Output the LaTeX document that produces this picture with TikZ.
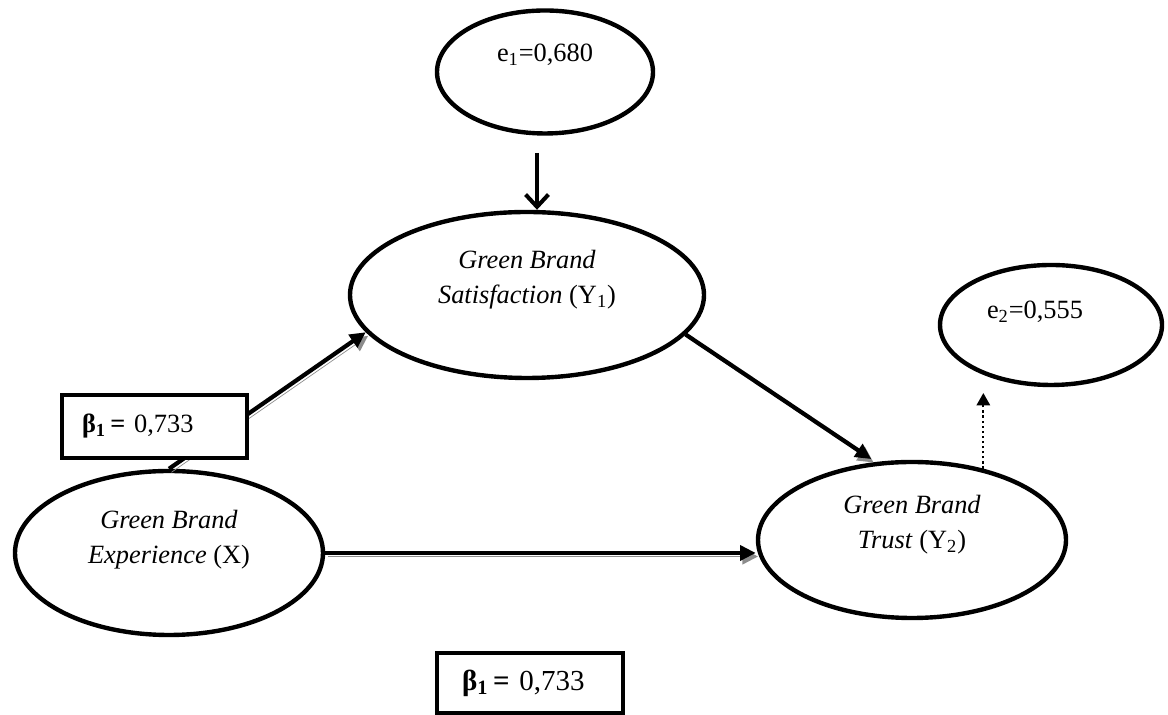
\documentclass[tikz,border=0pt]{standalone}
\usepackage{fontspec}
\setmainfont{Liberation Serif}
\usetikzlibrary{shapes.geometric, arrows.meta}

\begin{document}
\begin{tikzpicture}[
    font=\fontsize{15}{20}\selectfont,
    latent/.style={draw, ellipse, line width=2.5pt, inner sep=0pt},
    coef/.style={draw, rectangle, line width=2.7pt, fill=white, align=left, inner ysep=0pt},
    causal/.style={line width=2.4pt, -{Triangle[length=9pt, width=8.5pt]},
      preaction={draw=black!45, transform canvas={shift={(1.4pt,-2pt)}}}},
    ]

        \useasboundingbox (0, 0) rectangle (23.36, 14.3);

        % error terms
        \node[latent, minimum width=4.32cm, minimum height=2.46cm,
          label={[yshift=0.34cm]center:e\textsubscript{1}=0,680}] (e1) at (10.9, 12.86) {};
        \node[latent, minimum width=4.44cm, minimum height=2.4cm,
          label={[xshift=-0.32cm, yshift=0.26cm]center:e\textsubscript{2}=0,555}] (e2) at (21.02, 7.8) {};

        % constructs
        \node[latent, minimum width=7.08cm, minimum height=3.32cm,
          label={[yshift=0.3cm, align=center]center:\textit{Green Brand}\\\textit{Satisfaction} (Y\textsubscript{1})}] (sat) at (10.54, 8.4) {};
        \node[latent, minimum width=6.16cm, minimum height=3.28cm,
          label={[yshift=0.26cm, align=center]center:\textit{Green Brand}\\\textit{Experience} (X)}] (exp) at (3.38, 3.24) {};
        \node[latent, minimum width=6.16cm, minimum height=3.12cm,
          label={[yshift=0.3cm, align=center]center:\textit{Green Brand}\\\textit{Trust} (Y\textsubscript{2})}] (trust) at (18.24, 3.5) {};

        % arrows
        \coordinate (e1out) at (10.74, 11.24);
        \coordinate (e2tip) at (19.64, 6.44);
        \draw[line width=2.3pt, -{Straight Barb[length=7pt, width=13pt]}] (e1out) -- (e1out |- sat.north);
        \draw[causal] (exp.north) -- (sat.193);
        \draw[causal, shorten >=3pt] (sat.-14) -- (trust.115);
        \draw[causal] (exp.east) -- (exp.east -| trust.west);
        \draw[line width=1.3pt, dash pattern=on 1.3pt off 1.6pt,
          -{Triangle[length=7pt, width=7.5pt]}] (trust.45) -- (trust.45 |- e2tip);

        % coefficients
        \node[coef, minimum height=1.26cm, text width=2.9cm, inner xsep=0.4cm] (b1) at (3.09, 5.77)
          {\textbf{β\textsubscript{1}\,=} 0,733};
        \node[coef, minimum height=1.2cm, text width=2.72cm, inner xsep=0.5cm,
          font=\fontsize{16.5}{20}\selectfont] (b2) at (10.6, 0.64)
          {\textbf{β\textsubscript{1}\,=} 0,733};

\end{tikzpicture}
\end{document}
